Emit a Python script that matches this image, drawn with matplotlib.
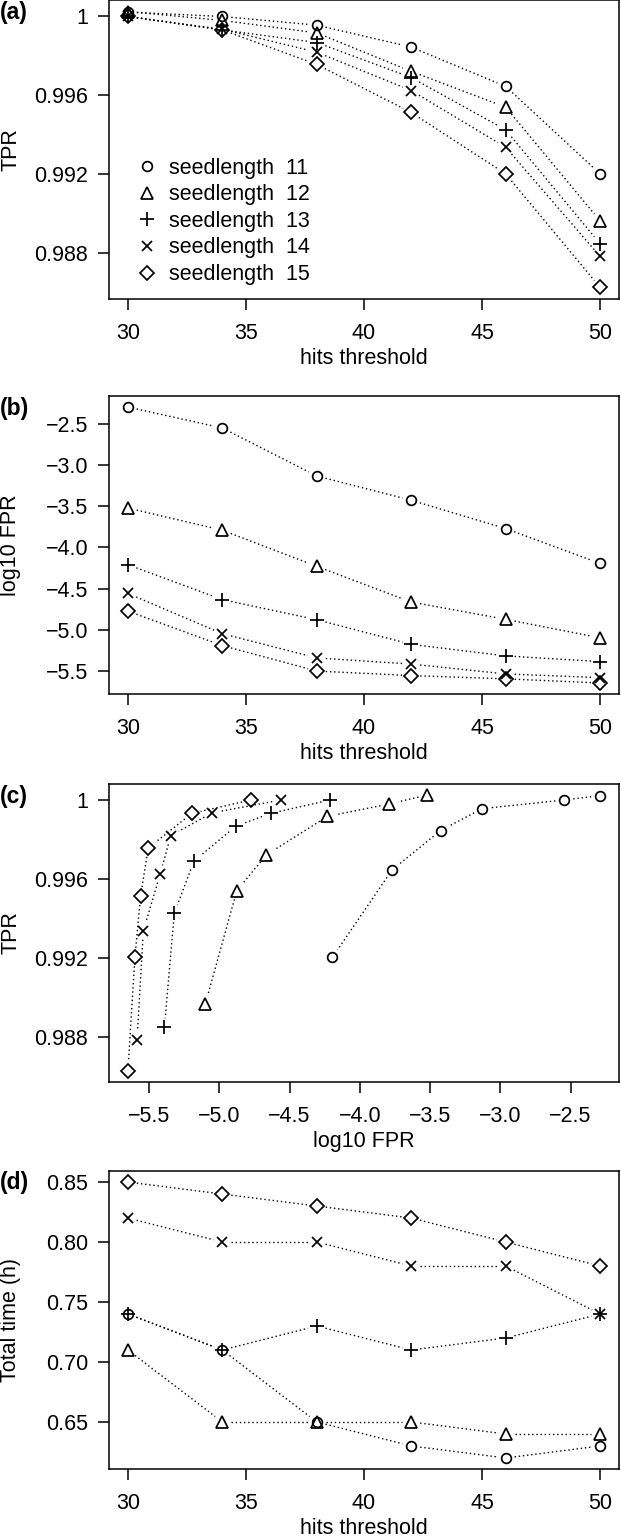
import numpy as np
import matplotlib
matplotlib.use("Agg")
import matplotlib.pyplot as plt
from matplotlib.lines import Line2D

plt.rcParams['font.family'] = ['Liberation Sans', 'DejaVu Sans']

# ---------- Data ----------
hits = [30, 34, 38, 42, 46, 50]
seedlengths = [11, 12, 13, 14, 15]

tpr_11 = [1.00022, 1.00000, 0.99956, 0.99845, 0.99646, 0.99203]
tpr_12 = [1.00025, 0.99980, 0.99917, 0.99722, 0.99541, 0.98965]
tpr_13 = [1.00000, 0.99932, 0.99868, 0.99691, 0.99426, 0.98849]
tpr_14 = [1.00000, 0.99935, 0.99819, 0.99625, 0.99338, 0.98785]
tpr_15 = [1.00000, 0.99932, 0.99757, 0.99514, 0.99203, 0.98628]

fpr_11 = [-2.29, -2.545, -3.13, -3.425, -3.77, -4.195]
fpr_12 = [-3.52, -3.79, -4.23, -4.665, -4.875, -5.10]
fpr_13 = [-4.21, -4.635, -4.88, -5.18, -5.32, -5.39]
fpr_14 = [-4.56, -5.05, -5.345, -5.42, -5.54, -5.585]
fpr_15 = [-4.775, -5.195, -5.505, -5.56, -5.60, -5.65]

time_11 = [0.74, 0.71, 0.65, 0.63, 0.62, 0.63]
time_12 = [0.71, 0.65, 0.65, 0.65, 0.64, 0.64]
time_13 = [0.74, 0.71, 0.73, 0.71, 0.72, 0.74]
time_14 = [0.82, 0.80, 0.80, 0.78, 0.78, 0.74]
time_15 = [0.85, 0.84, 0.83, 0.82, 0.80, 0.78]

tpr = [tpr_11, tpr_12, tpr_13, tpr_14, tpr_15]
fpr = [fpr_11, fpr_12, fpr_13, fpr_14, fpr_15]
ttime = [time_11, time_12, time_13, time_14, time_15]

# R pch 1..5
markers = ['o', '^', '+', 'x', 'D']
msizes = [7.0, 8.5, 10.0, 7.5, 7.0]

FS = 15.5
LW = 1.1
MEW = 1.25
GAP = 9  # px gap around points, like R type="b"


def r_limits(vals):
    lo, hi = min(vals), max(vals)
    pad = (hi - lo) * 0.04
    return lo - pad, hi + pad


def setup_axes(ax, xlim, ylim):
    ax.set_xlim(*xlim)
    ax.set_ylim(*ylim)
    for sp in ax.spines.values():
        sp.set_linewidth(LW)
    ax.tick_params(direction='out', length=8, width=LW, labelsize=FS)
    ax.tick_params(axis='x', pad=9.5)
    ax.tick_params(axis='y', pad=7)


def draw_series(ax, x, y, marker, ms):
    # dotted segments shortened near the points
    pts = ax.transData.transform(np.column_stack([x, y]))
    inv = ax.transData.inverted()
    for p0, p1 in zip(pts[:-1], pts[1:]):
        d = p1 - p0
        dist = np.hypot(*d)
        if dist <= 2 * GAP:
            continue
        u = d / dist
        a = inv.transform(p0 + u * GAP)
        b = inv.transform(p1 - u * GAP)
        ax.plot([a[0], b[0]], [a[1], b[1]], color='black', lw=1.0,
                linestyle=(0, (1, 2.0)), solid_capstyle='butt')
    ax.plot(x, y, linestyle='none', marker=marker, ms=ms, mfc='none',
            mec='black', mew=MEW)


def panel_label(ax, letter):
    ax.text(-0.213, 1 - 12 / 298, '(' + letter + ')', transform=ax.transAxes,
            ha='left', va='center', fontsize=16.5, fontweight='bold')


fig = plt.figure(figsize=(6.21, 15.38), dpi=100)
left, width, height = 109 / 621, 510 / 621, 298 / 1538
tops = [0.5, 396, 784, 1171]
axes = [fig.add_axes([left, 1 - (t + 298) / 1538, width, height]) for t in tops]
ax_a, ax_b, ax_c, ax_d = axes

all_tpr = sum(tpr, [])
all_fpr = sum(fpr, [])
all_time = sum(ttime, [])
hits_lim = r_limits(hits)

setup_axes(ax_a, hits_lim, r_limits(all_tpr))
setup_axes(ax_b, hits_lim, r_limits(all_fpr))
setup_axes(ax_c, r_limits(all_fpr), r_limits(all_tpr))
setup_axes(ax_d, hits_lim, r_limits(all_time))

tpr_ticks = [0.988, 0.992, 0.996, 1.0]
tpr_labels = ['0.988', '0.992', '0.996', '1']
fpr_ticks = [-5.5, -5.0, -4.5, -4.0, -3.5, -3.0, -2.5]
fpr_labels = ['\u2212%.1f' % abs(v) for v in fpr_ticks]
hit_ticks = [30, 35, 40, 45, 50]
time_ticks = [0.65, 0.70, 0.75, 0.80, 0.85]

for ax in (ax_a, ax_b, ax_d):
    ax.set_xticks(hit_ticks)
    ax.set_xlabel('hits threshold', fontsize=FS, labelpad=3)

ax_a.set_yticks(tpr_ticks, tpr_labels)
ax_a.set_ylabel('TPR', fontsize=FS)
ax_b.set_yticks(fpr_ticks, fpr_labels)
ax_b.set_ylabel('log10 FPR', fontsize=FS)
ax_c.set_yticks(tpr_ticks, tpr_labels)
ax_c.set_xticks(fpr_ticks, fpr_labels)
ax_c.set_ylabel('TPR', fontsize=FS)
ax_c.set_xlabel('log10 FPR', fontsize=FS, labelpad=3)
ax_d.set_yticks(time_ticks, ['%.2f' % v for v in time_ticks])
ax_d.set_ylabel('Total time (h)', fontsize=FS)

for ax in axes:
    ax.yaxis.set_label_coords(-0.172, 0.5)

for i in range(len(seedlengths)):
    m, ms = markers[i], msizes[i]
    draw_series(ax_a, hits, tpr[i], m, ms)
    draw_series(ax_b, hits, fpr[i], m, ms)
    draw_series(ax_c, fpr[i], tpr[i], m, ms)
    draw_series(ax_d, hits, ttime[i], m, ms)

handles = [Line2D([], [], linestyle='none', marker=markers[i], ms=msizes[i],
                  mfc='none', mec='black', mew=MEW) for i in range(5)]
labels = ['seedlength  %d' % s for s in seedlengths]
ax_a.legend(handles, labels, loc='lower left', bbox_to_anchor=(0.057, 0.045),
            frameon=False, fontsize=FS, handlelength=0.8, handletextpad=0.65,
            labelspacing=0.26, borderpad=0, borderaxespad=0)

for ax, letter in zip(axes, 'abcd'):
    panel_label(ax, letter)

fig.savefig('out.png', dpi=100)
